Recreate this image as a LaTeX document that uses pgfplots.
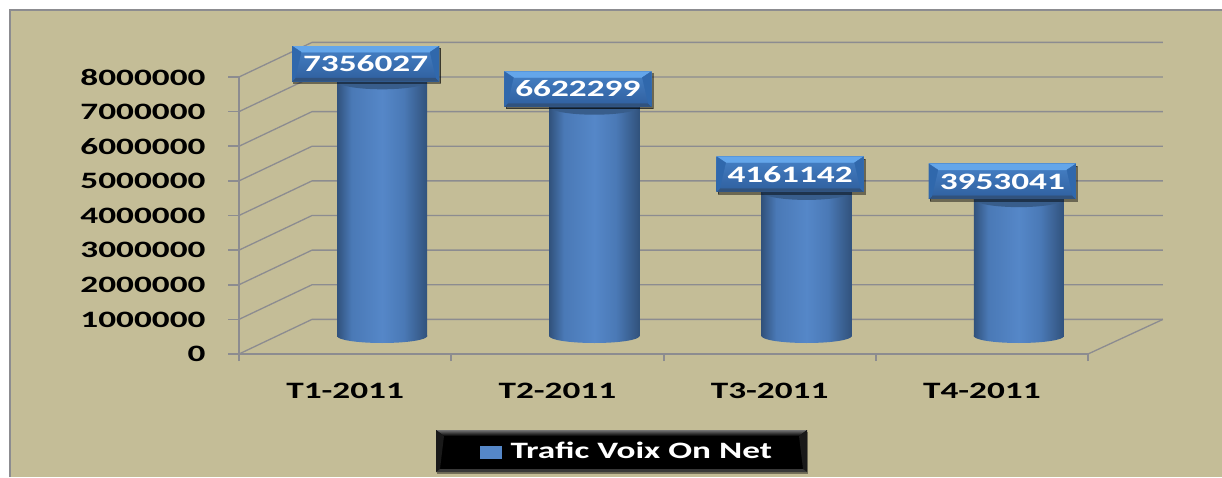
\documentclass[border=0pt]{standalone}
\usepackage{fontspec}
\setmainfont[FakeStretch=1.5]{Carlito}
\usepackage{pgfplots}
\pgfplotsset{compat=1.18}
\usetikzlibrary{shadows,calc}
\definecolor{bgc}{HTML}{C4BD97}
\definecolor{gridc}{HTML}{8C8C90}
\definecolor{cydark}{HTML}{31527C}
\definecolor{cymid}{HTML}{5587C8}
\definecolor{cymidb}{HTML}{4A79B6}
\definecolor{boxb}{HTML}{2F5F9E}
\definecolor{boxt}{HTML}{4681C6}
\definecolor{boxtop}{HTML}{64A6EA}
\definecolor{boxside}{HTML}{3068AC}
\pgfdeclarehorizontalshading{cyl}{100bp}{color(0bp)=(cydark); color(25bp)=(cydark); color(33bp)=(cymidb); color(50bp)=(cymid); color(62bp)=(cymidb); color(75bp)=(cydark); color(100bp)=(cydark)}
\pgfdeclareverticalshading{boxs}{100bp}{color(0bp)=(boxb); color(25bp)=(boxb); color(75bp)=(boxt); color(100bp)=(boxt)}
\pgfdeclareplotmark{capbottom}{\shade[shading=cyl,draw=none] (-45pt,1pt) -- (-45pt,0pt) arc[start angle=180,end angle=360,x radius=45pt,y radius=7pt] -- (45pt,1pt) -- cycle;}
\pgfdeclareplotmark{captop}{\fill[rotate=3,color=cydark!80!cymid,draw=none] (-45pt,0pt) arc[start angle=180,end angle=360,x radius=45pt,y radius=8pt] -- cycle;}
\newcommand{\lf}{\fontsize{23.5}{25}\selectfont\bfseries}
\tikzset{bevelbox/.style={
  minimum width=147pt,minimum height=35pt,inner sep=0pt,
  shading=boxs,
  drop shadow={shadow xshift=1.5pt,shadow yshift=-2pt,opacity=.45,fill=black},
  text=white,
  path picture={
    \fill[color=boxtop] (path picture bounding box.north west) -- (path picture bounding box.north east) -- ([shift={(-9pt,-6pt)}]path picture bounding box.north east) -- ([shift={(9pt,-6pt)}]path picture bounding box.north west) -- cycle;
    \fill[color=cydark] (path picture bounding box.south west) -- (path picture bounding box.south east) -- ([shift={(-3pt,3pt)}]path picture bounding box.south east) -- ([shift={(3pt,3pt)}]path picture bounding box.south west) -- cycle;
    \fill[color=boxside] (path picture bounding box.north west) -- ([shift={(9pt,-6pt)}]path picture bounding box.north west) -- ([shift={(3pt,3pt)}]path picture bounding box.south west) -- (path picture bounding box.south west) -- cycle;
    \fill[color=boxside] (path picture bounding box.north east) -- ([shift={(-9pt,-6pt)}]path picture bounding box.north east) -- ([shift={(-3pt,3pt)}]path picture bounding box.south east) -- (path picture bounding box.south east) -- cycle;
  }}}
\pgfplotsset{cylbar/.style={ybar,bar width=90pt,bar shift=0pt,draw=none,shade,shading=cyl,xshift=37pt,yshift=18pt}}
\begin{document}
\begin{tikzpicture}
\path[use as bounding box,fill=white] (0pt,0pt) rectangle (1222pt,477pt);
\fill[bgc] (10pt,0pt) rectangle (1222pt,467pt);
\draw[gridc,line width=2pt] (10pt,0pt) -- (10pt,467pt) -- (1222pt,467pt);
% legend box background
\fill[black,drop shadow={shadow xshift=1pt,shadow yshift=-1.5pt,opacity=.4,fill=black}] (436pt,5pt) rectangle (807pt,47pt);
\shade[top color=white!45!black,bottom color=black] (436pt,47pt) -- (807pt,47pt) -- (799pt,41pt) -- (444pt,41pt) -- cycle;
\fill[white!10!black] (436pt,47pt) -- (444pt,41pt) -- (440pt,8pt) -- (436pt,5pt) -- cycle;
\fill[white!10!black] (807pt,47pt) -- (799pt,41pt) -- (803pt,8pt) -- (807pt,5pt) -- cycle;
\fill[white!22!black] (436pt,5pt) -- (807pt,5pt) -- (803pt,8pt) -- (440pt,8pt) -- cycle;
\begin{axis}[
  at={(239pt,123pt)},anchor=south west,
  scale only axis,width=849pt,height=277pt,
  xmin=-0.5,xmax=3.5,ymin=0,ymax=8000000,
  clip=false,
  axis x line=bottom,axis y line=left,
  axis line style={-,draw=gridc,line width=1.6pt},
  xtick={0,1,2,3},
  xticklabels={T1-2011,T2-2011,T3-2011,T4-2011},
  minor xtick={-0.5,0.5,1.5,2.5,3.5},
  ytick={0,1000000,2000000,3000000,4000000,5000000,6000000,7000000,8000000},
  yticklabels={0,1000000,2000000,3000000,4000000,5000000,6000000,7000000,8000000},
  scaled y ticks=false,
  tick align=outside,
  major x tick style={draw=none},
  minor x tick style={draw=gridc,line width=2pt},
  y tick style={draw=gridc,line width=1.6pt},
  major tick length=11pt,minor tick length=7pt,
  xticklabel style={font=\lf,anchor=center,yshift=-26pt,text=black},
  yticklabel style={font=\lf,anchor=east,xshift=-19pt,text=black},
  legend style={at={(axis cs:0.635,-2800000)},anchor=west,draw=none,fill=none,text=white,font=\lf,inner sep=0pt,
    legend cell align=left},
]
% walls and back plane
\pgfplotsinvokeforeach{0,1000000,2000000,3000000,4000000,5000000,6000000,7000000,8000000}{
  \addplot[forget plot,gridc,line width=1.3pt] coordinates {(-0.5,#1) (-0.156,#1+1000000) (3.853,#1+1000000)};
}
\addplot[forget plot,gridc,line width=1.3pt] coordinates {(3.5,0) (3.853,1000000)};
% cylinder bases
\addplot[forget plot,only marks,mark=capbottom,xshift=37pt,yshift=18pt,mark options={draw=none}] coordinates {(0,0) (1,0) (2,0) (3,0)};
% cylinders
\addplot[forget plot,cylbar] coordinates {(0,7356027)};
\addplot[forget plot,cylbar] coordinates {(1,6622299)};
\addplot[forget plot,cylbar] coordinates {(2,4161142)};
\addplot[forget plot,cylbar] coordinates {(3,3953041)};
% cylinder tops
\addplot[forget plot,only marks,mark=captop,xshift=37pt,yshift=18pt,mark options={draw=none}] coordinates {(0,7356027) (1,6622299) (2,4161142) (3,3953041)};
% value boxes
\addplot[only marks,mark=none,xshift=20.5pt,yshift=18pt,
  legend image code/.code={\fill[cymid] (0pt,-25pt) rectangle (21pt,-13pt);},
  point meta=explicit symbolic,
  nodes near coords={\raisebox{-2pt}{\pgfplotspointmeta}},
  every node near coord/.append style={bevelbox,font=\lf,anchor=south,yshift=0pt}]
  coordinates {(0,7356027)[7356027] (1,6622299)[6622299] (2,4161142)[4161142] (3,3953041)[3953041]};
\addlegendentry{\hspace{7pt}Trafic Voix On Net}
\end{axis}
\end{tikzpicture}
\end{document}
